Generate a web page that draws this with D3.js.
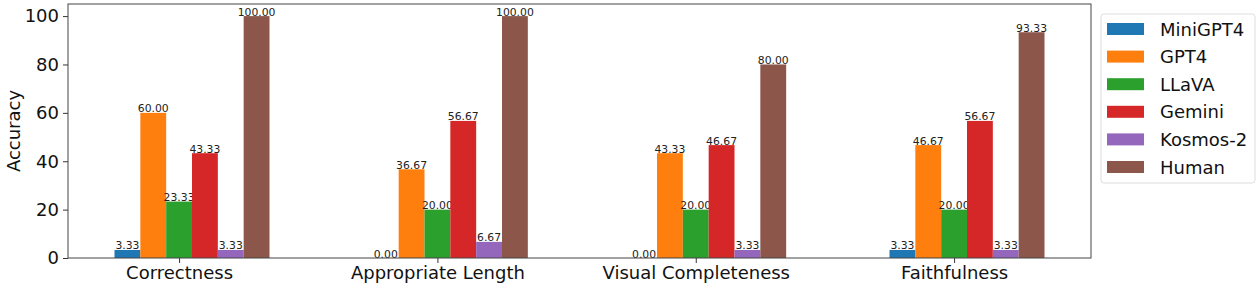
<!DOCTYPE html>
<html><head><meta charset="utf-8">
<script src="https://cdn.jsdelivr.net/npm/d3@7"></script>
<style>body{margin:0;background:#fff}svg{display:block;font-family:"DejaVu Sans",sans-serif}</style>
</head><body><svg id="c" width="1258" height="289"></svg>
<script>
const categories = ["Correctness", "Appropriate Length", "Visual Completeness", "Faithfulness"];
const seriesNames = ["MiniGPT4", "GPT4", "LLaVA", "Gemini", "Kosmos-2", "Human"];
const miniGPT4 = [3.33, 0.00, 0.00, 3.33];
const gpt4 = [60.00, 36.67, 43.33, 46.67];
const llava = [23.33, 20.00, 20.00, 20.00];
const gemini = [43.33, 56.67, 46.67, 56.67];
const kosmos2 = [3.33, 6.67, 3.33, 3.33];
const human = [100.00, 100.00, 80.00, 93.33];
const yTicks = [0, 20, 40, 60, 80, 100];
const colors = ["#1f77b4", "#ff7f0e", "#2ca02c", "#d62728", "#9467bd", "#8c564b"];
const seriesValues = [miniGPT4, gpt4, llava, gemini, kosmos2, human];

const svg = d3.select("#c");
const L = 68, R = 1091, T = 4, B = 258;
const barW = 0.1;
const x = d3.scaleLinear().domain([-0.43, 3.53]).range([L, R]);
const y = d3.scaleLinear().domain([0, 105]).range([B, T]);

// bars
seriesValues.forEach((vals, s) => {
  const g = svg.append("g");
  vals.forEach((v, i) => {
    const cx = i + (s - 2) * barW;
    const x0 = x(cx - barW / 2), x1 = x(cx + barW / 2);
    g.append("rect").attr("x", x0).attr("y", y(v)).attr("width", x1 - x0)
      .attr("height", y(0) - y(v)).attr("fill", colors[s]);
    g.append("text").attr("x", (x0 + x1) / 2).attr("y", y(v) - 0.5)
      .attr("text-anchor", "middle").attr("font-size", 10.8).attr("fill", "#222")
      .text(v.toFixed(2));
  });
});

// axes
const yAxis = d3.axisLeft(y).tickValues(yTicks).tickSize(5).tickPadding(4);
const ya = svg.append("g").attr("transform", `translate(${L},0)`).call(yAxis);
ya.select(".domain").remove();
ya.selectAll("text").attr("font-size", 18).attr("fill", "#111").attr("font-family", "DejaVu Sans");
ya.selectAll("line").attr("stroke", "#333");

const xAxis = d3.axisBottom(x).tickValues(d3.range(categories.length)).tickFormat(i => categories[i]).tickSize(5).tickPadding(3);
const xa = svg.append("g").attr("transform", `translate(0,${B})`).call(xAxis);
xa.select(".domain").remove();
xa.selectAll("text").attr("font-size", 18).attr("fill", "#111").attr("font-family", "DejaVu Sans");
xa.selectAll("line").attr("stroke", "#333");

svg.append("rect").attr("x", L).attr("y", T).attr("width", R - L).attr("height", B - T)
  .attr("fill", "none").attr("stroke", "#444").attr("stroke-width", 1);

svg.append("text").attr("transform", `translate(20,${(T + B) / 2}) rotate(-90)`)
  .attr("text-anchor", "middle").attr("font-size", 18).attr("fill", "#111").text("Accuracy");

// legend
const lg = svg.append("g");
lg.append("rect").attr("x", 1101).attr("y", 14).attr("width", 154).attr("height", 169)
  .attr("rx", 3).attr("fill", "#fff").attr("stroke", "#ddd");
seriesNames.forEach((n, s) => {
  const cy = 29 + s * 27.6;
  lg.append("rect").attr("x", 1107).attr("y", cy - 6).attr("width", 37).attr("height", 12).attr("fill", colors[s]);
  lg.append("text").attr("x", 1160).attr("y", cy + 6.5).attr("font-size", 18).attr("fill", "#111").text(n);
});
</script></body></html>
